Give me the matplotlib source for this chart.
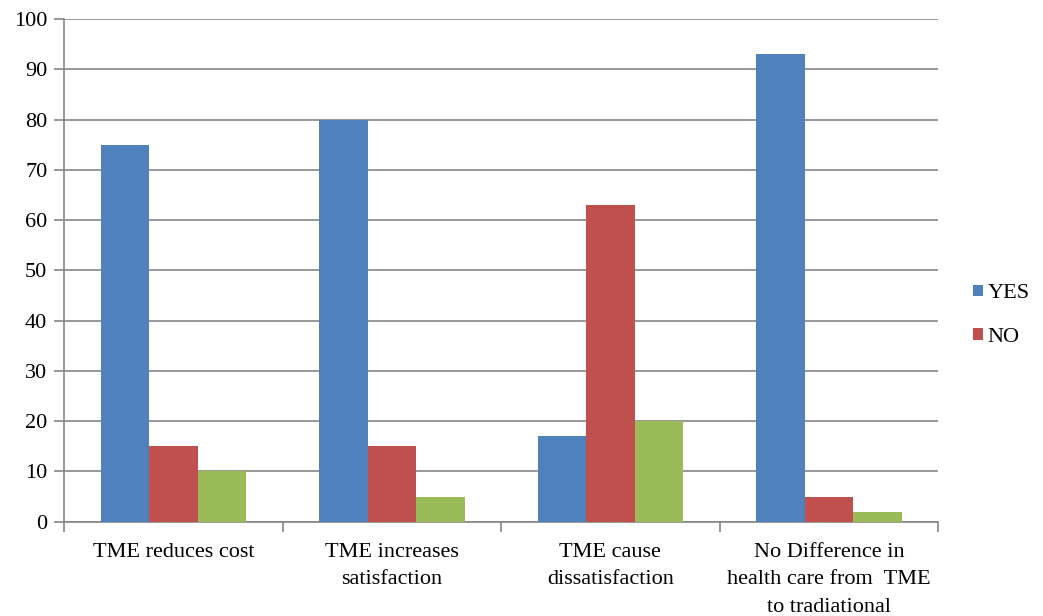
import numpy as np
import matplotlib.pyplot as plt

categories = ["TME reduces cost",
              "TME increases\nsatisfaction",
              "TME cause\ndissatisfaction",
              "No Difference in\nhealth care from  TME\nto tradiational"]
yes_vals = [75, 80, 17, 93]
no_vals = [15, 15, 63, 5]
third_vals = [10, 5, 20, 2]

plt.rcParams['font.family'] = ['Liberation Serif', 'DejaVu Serif']

fig = plt.figure(figsize=(10.43, 6.16), dpi=100)
ax = fig.add_axes([0.0614, 0.153, 0.838, 0.816])

x = np.arange(len(categories))
w = 0.222
b1 = ax.bar(x - w, yes_vals, w, color='#4F81BD', label='YES', zorder=3)
b2 = ax.bar(x, no_vals, w, color='#C0504D', label='NO', zorder=3)
ax.bar(x + w, third_vals, w, color='#9BBB59', zorder=3)

ax.set_xlim(-0.5, len(categories) - 0.5)
ax.set_ylim(0, 100)
ax.set_yticks(range(0, 101, 10))
ax.yaxis.grid(True, color='#868686', linewidth=1.2, zorder=0)

# category labels between boundary ticks
ax.set_xticks(np.arange(-0.5, len(categories), 1.0))
ax.set_xticklabels([])
ax.set_xticks(x, minor=True)
ax.set_xticklabels(categories, minor=True, fontsize=16, linespacing=1.62, va='top')
ax.tick_params(axis='x', which='minor', length=0, pad=15)
ax.tick_params(axis='x', which='major', length=7, color='#868686', width=1.2)
ax.tick_params(axis='y', length=7, color='#868686', width=1.2, labelsize=16, pad=5)

for s in ['top', 'right']:
    ax.spines[s].set_visible(False)
for s in ['left', 'bottom']:
    ax.spines[s].set_color('#868686')
    ax.spines[s].set_linewidth(1.2)

ax.legend(handles=[b1, b2], loc='center left', bbox_to_anchor=(1.03, 0.41),
          frameon=False, fontsize=16, handlelength=0.45, handleheight=0.45,
          handletextpad=0.2, labelspacing=1.1, borderaxespad=0)

fig.savefig('out.png', dpi=100)
